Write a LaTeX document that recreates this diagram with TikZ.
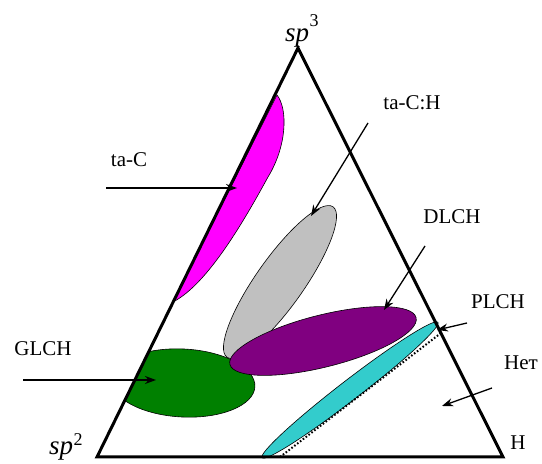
\documentclass[tikz,border=0pt]{standalone}
\usepackage{fontspec}
\setmainfont{Liberation Serif}
\usetikzlibrary{arrows.meta, shapes.geometric}

\definecolor{tacfill}{RGB}{255,0,255}
\definecolor{tachfill}{RGB}{192,192,192}
\definecolor{dlchfill}{RGB}{128,0,128}
\definecolor{glchfill}{RGB}{0,128,0}
\definecolor{plchfill}{RGB}{51,204,204}

\begin{document}
\begin{tikzpicture}[
    x=1pt, y=1pt,
    lbl/.style={font=\fontsize{21}{24}\selectfont, inner sep=0pt},
    region/.style={ellipse, draw, line width=0.6pt, inner sep=0pt},
    arrow/.style={-{Stealth[length=11pt,width=8pt]}, line width=1.3pt}
  ]
    \useasboundingbox (0,0) rectangle (542,464);

    % corners of the triangle
    \coordinate (sp2) at (97,7);
    \coordinate (H) at (503,7);
    \coordinate (sp3) at (298,416);

    % regions
    \filldraw[fill=tacfill, line width=0.6pt] (277,369) .. controls (288,355) and (287,318) .. (268,287)
      .. controls (245,245) and (208,180) .. (173,162) -- cycle;
    \begin{scope}
      \clip (sp2) -- (H) -- (sp3) -- cycle;
      \node[region, fill=glchfill, minimum width=144pt, minimum height=68pt, rotate=-3] (glch) at (183,81) {};
    \end{scope}
    \node[region, fill=tachfill, minimum width=184pt, minimum height=48pt, rotate=54.8] (tach) at (280,182) {};
    \node[region, fill=dlchfill, minimum width=192pt, minimum height=52pt, rotate=14.1] (dlch) at (323,123) {};
    \node[region, fill=plchfill, minimum width=222pt, minimum height=20pt, rotate=37.6] (plch) at (350,74) {};

    % border of the PLCH zone
    \coordinate (dotA) at (280,7);
    \coordinate (dotB) at (441,131);
    \draw[line width=2pt, dash pattern=on 1.6pt off 2pt] (dotA) -- (dotB);

    \draw[line width=3pt, line join=miter] (sp2) -- (H) -- (sp3) -- cycle;

    % labels
    \node[lbl, anchor=base west] (sp3lbl) at (285,422) {{\fontsize{27}{30}\selectfont\itshape sp}\hspace{0.5pt}\raisebox{15pt}{\fontsize{18}{20}\selectfont 3}};
    \node[lbl, anchor=base west] (sp2lbl) at (49,9) {{\fontsize{27}{30}\selectfont\itshape sp}\hspace{0.5pt}\raisebox{9pt}{\fontsize{18}{20}\selectfont 2}};
    \node[lbl] (taclbl) at (129,304) {ta-C};
    \node[lbl] (tachlbl) at (412,361) {ta-C:H};
    \node[lbl] (dlchlbl) at (452,247) {DLCH};
    \node[lbl] (plchlbl) at (498,162) {PLCH};
    \node[lbl] (netlbl) at (521,101) {Нет};
    \node[lbl] (hlbl) at (518,21) {H};
    \node[lbl] (glchlbl) at (43,115) {GLCH};

    % arrows
    \coordinate (tacA) at (106,276);   \coordinate (tacB) at (237,276);
    \coordinate (tachA) at (368,341);  \coordinate (tachB) at (311,248);
    \coordinate (dlchA) at (425,218);  \coordinate (dlchB) at (384,154);
    \coordinate (plchA) at (467,141);  \coordinate (plchB) at (437,134);
    \coordinate (netA) at (492,76);    \coordinate (netB) at (442,58);
    \coordinate (glchA) at (23,84);    \coordinate (glchB) at (156,84);
    \draw[arrow] (tacA) -- (tacB);
    \draw[arrow] (tachA) -- (tachB);
    \draw[arrow] (dlchA) -- (dlchB);
    \draw[arrow] (plchA) -- (plchB);
    \draw[arrow] (netA) -- (netB);
    \draw[arrow] (glchA) -- (glchB);
\end{tikzpicture}
\end{document}
